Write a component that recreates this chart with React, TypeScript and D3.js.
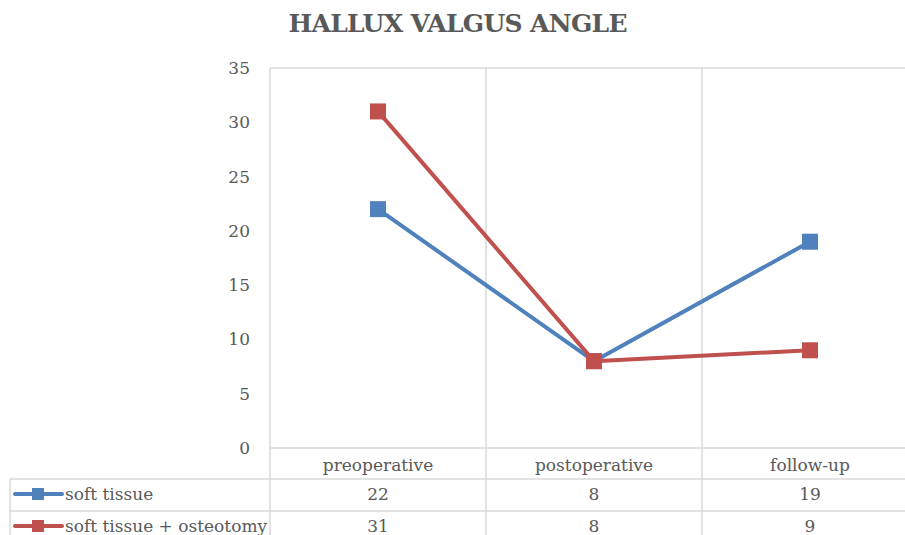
import React, { useEffect, useRef } from 'react';
import * as d3 from 'd3';

const categories = ['preoperative', 'postoperative', 'follow-up'];
const softTissue = [22, 8, 19];
const softTissueOsteotomy = [31, 8, 9];
const yTicks = [0, 5, 10, 15, 20, 25, 30, 35];

const seriesNames = ['soft tissue', 'soft tissue + osteotomy'];
const seriesColors = ['#4F81BD', '#C0504D'];

const App = () => {
  const ref = useRef<SVGSVGElement>(null);

  useEffect(() => {
    const width = 905;
    const height = 535;
    const plot = { left: 270, right: 918, top: 68, bottom: 448 };
    const font = "'DejaVu Serif', serif";
    const textColor = '#595959';
    const gridColor = '#D9D9D9';
    const fs = 17;

    const svg = d3.select(ref.current).attr('width', width).attr('height', height);
    svg.selectAll('*').remove();

    const x = d3
      .scaleBand<string>()
      .domain(categories)
      .range([plot.left, plot.right]);

    const y = d3.scaleLinear().domain([0, 35]).range([plot.bottom, plot.top]);

    // title
    svg
      .append('text')
      .attr('x', 458)
      .attr('y', 32)
      .attr('text-anchor', 'middle')
      .attr('font-family', font)
      .attr('font-weight', 'bold')
      .attr('font-size', 25)
      .attr('fill', textColor)
      .attr('textLength', 339)
      .text('HALLUX VALGUS ANGLE');

    // plot border + category gridlines
    const g = svg.append('g');
    g.append('line')
      .attr('x1', plot.left).attr('x2', plot.right)
      .attr('y1', plot.top).attr('y2', plot.top)
      .attr('stroke', gridColor).attr('stroke-width', 1.5);
    g.append('line')
      .attr('x1', plot.left).attr('x2', plot.right)
      .attr('y1', plot.bottom).attr('y2', plot.bottom)
      .attr('stroke', gridColor).attr('stroke-width', 1.5);
    g.selectAll('line.vgrid')
      .data(categories)
      .enter()
      .append('line')
      .attr('class', 'vgrid')
      .attr('x1', d => x(d)!)
      .attr('x2', d => x(d)!)
      .attr('y1', plot.top)
      .attr('y2', height)
      .attr('stroke', gridColor)
      .attr('stroke-width', 1.5);

    // y tick labels
    svg
      .selectAll('text.ytick')
      .data(yTicks)
      .enter()
      .append('text')
      .attr('class', 'ytick')
      .attr('x', 250)
      .attr('y', d => y(d))
      .attr('dy', '0.35em')
      .attr('text-anchor', 'end')
      .attr('font-family', font)
      .attr('font-size', fs)
      .attr('fill', textColor)
      .text(d => d);

    // data table
    const rowTops = [479, 511];
    const rowH = 32;
    const tableLeft = 10;
    rowTops.forEach(t => {
      svg.append('line')
        .attr('x1', tableLeft).attr('x2', plot.right)
        .attr('y1', t).attr('y2', t)
        .attr('stroke', gridColor).attr('stroke-width', 1.5);
    });
    svg.append('line')
      .attr('x1', tableLeft).attr('x2', tableLeft)
      .attr('y1', rowTops[0]).attr('y2', height)
      .attr('stroke', gridColor).attr('stroke-width', 1.5);

    svg
      .selectAll('text.cat')
      .data(categories)
      .enter()
      .append('text')
      .attr('class', 'cat')
      .attr('x', d => x(d)! + x.bandwidth() / 2)
      .attr('y', 465)
      .attr('dy', '0.35em')
      .attr('text-anchor', 'middle')
      .attr('font-family', font)
      .attr('font-size', fs)
      .attr('fill', textColor)
      .text(d => d);

    const allSeries = [softTissue, softTissueOsteotomy];

    allSeries.forEach((vals, i) => {
      const cy = rowTops[i] + rowH / 2 - 1;
      svg.append('line')
        .attr('x1', 15).attr('x2', 62)
        .attr('y1', cy).attr('y2', cy)
        .attr('stroke', seriesColors[i]).attr('stroke-width', 4)
        .attr('stroke-linecap', 'round');
      svg.append('rect')
        .attr('x', 32).attr('y', cy - 6)
        .attr('width', 12).attr('height', 12)
        .attr('fill', seriesColors[i]);
      svg.append('text')
        .attr('x', 65)
        .attr('y', cy)
        .attr('dy', '0.35em')
        .attr('font-family', font)
        .attr('font-size', fs)
        .attr('fill', textColor)
        .text(seriesNames[i]);
      svg
        .selectAll(`text.val${i}`)
        .data(vals)
        .enter()
        .append('text')
        .attr('class', `val${i}`)
        .attr('x', (d, j) => x(categories[j])! + x.bandwidth() / 2)
        .attr('y', cy)
        .attr('dy', '0.35em')
        .attr('text-anchor', 'middle')
        .attr('font-family', font)
        .attr('font-size', fs)
        .attr('fill', textColor)
        .text(d => d);
    });

    // series lines and markers
    const line = d3
      .line<number>()
      .x((d, j) => x(categories[j])! + x.bandwidth() / 2)
      .y(d => y(d));

    allSeries.forEach((vals, i) => {
      svg.append('path')
        .datum(vals)
        .attr('fill', 'none')
        .attr('stroke', seriesColors[i])
        .attr('stroke-width', 4)
        .attr('stroke-linejoin', 'round')
        .attr('d', line);
    });
    allSeries.forEach((vals, i) => {
      svg
        .selectAll(`rect.m${i}`)
        .data(vals)
        .enter()
        .append('rect')
        .attr('class', `m${i}`)
        .attr('x', (d, j) => x(categories[j])! + x.bandwidth() / 2 - 8)
        .attr('y', d => y(d) - 8)
        .attr('width', 16)
        .attr('height', 16)
        .attr('fill', seriesColors[i]);
    });
  }, []);

  return <svg ref={ref} style={{ position: 'absolute', left: 0, top: 0 }}></svg>;
};

export default App;
